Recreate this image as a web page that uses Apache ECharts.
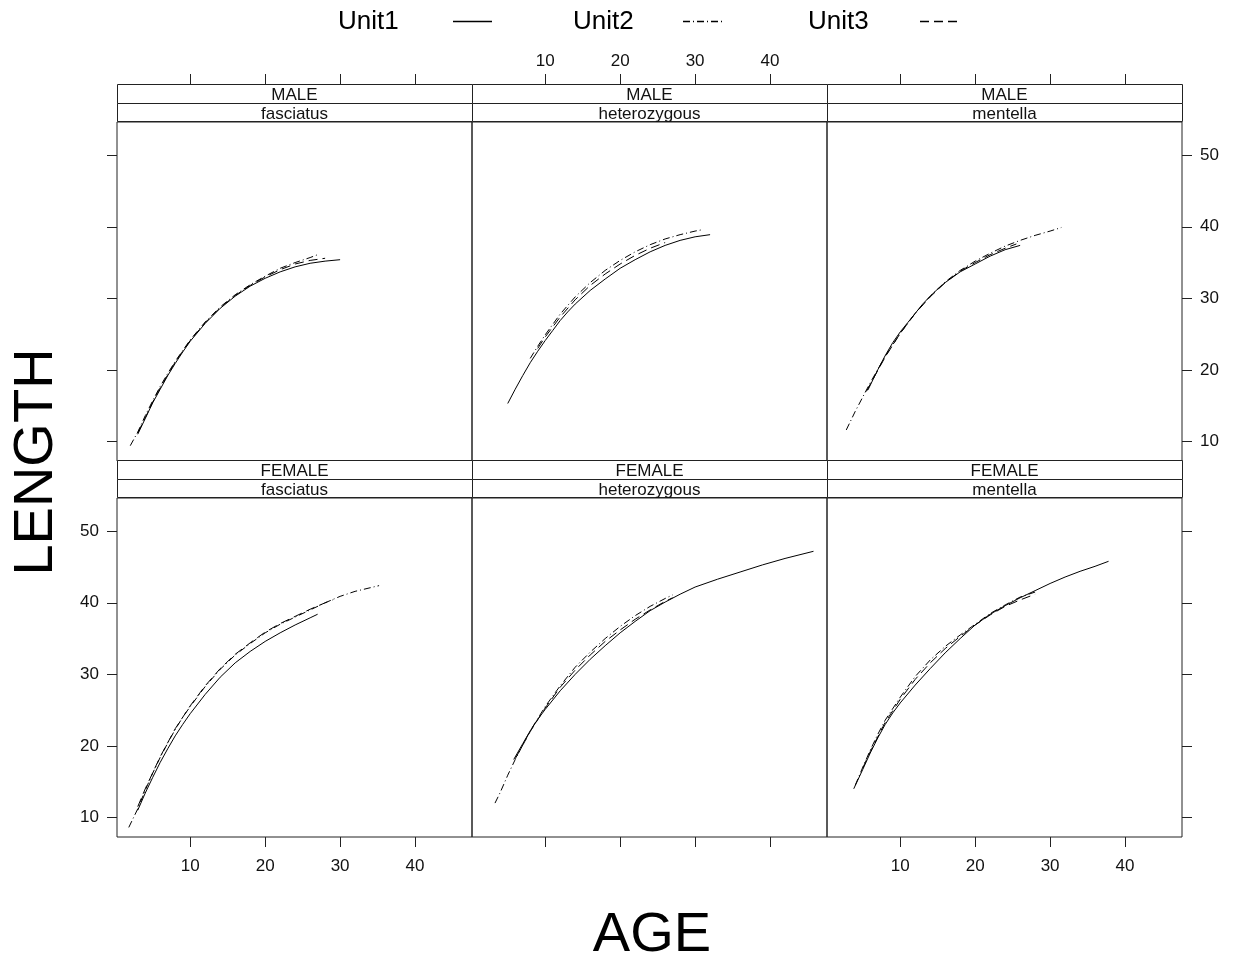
<!DOCTYPE html>
<html>
<head>
<meta charset="utf-8">
<script src="https://cdn.jsdelivr.net/npm/echarts@6/dist/echarts.min.js"></script>
<style>
html,body{margin:0;padding:0;background:#fff;}
#chart{width:1235px;height:960px;}
</style>
</head>
<body>
<div id="chart"></div>
<script>
// ---------- data (age, length) ----------
const sexLabels = ['MALE', 'FEMALE'];
const speciesLabels = ['fasciatus', 'heterozygous', 'mentella'];
const unitNames = ['Unit1', 'Unit2', 'Unit3'];
const xTickValues = [10, 20, 30, 40];
const yTickValues = [10, 20, 30, 40, 50];
const xRange = [0.23, 47.6];
const yRange = [7.26, 54.65];

// MALE fasciatus
const maleFasciatusUnit1 = [[3,11.0],[4,13.2],[5,15.4],[6,17.3],[7,19.2],[8,20.9],[9,22.5],[10,24.0],[12,26.5],[14,28.6],[16,30.3],[18,31.7],[20,32.8],[22,33.7],[24,34.4],[26,34.9],[28,35.2],[30,35.4]];
const maleFasciatusUnit2 = [[2,9.4],[3,11.3],[4,13.6],[5,15.7],[6,17.7],[7,19.5],[8,21.2],[10,24.2],[12,26.7],[14,28.8],[16,30.5],[18,31.9],[20,33.1],[22,34.2],[24,35.0],[26,35.7],[27,36.1]];
const maleFasciatusUnit3 = [[3,11.2],[4,13.3],[5,15.5],[6,17.5],[8,21.1],[10,24.1],[12,26.6],[14,28.7],[16,30.4],[18,31.8],[20,33.0],[22,34.0],[24,34.8],[26,35.3],[28,35.6]];
// MALE heterozygous
const maleHeteroUnit1 = [[5,15.3],[6,17.3],[7,19.2],[8,21.0],[9,22.6],[10,24.1],[11,25.5],[12,26.9],[13,28.1],[14,29.2],[16,31.1],[18,32.7],[20,34.2],[22,35.4],[24,36.5],[26,37.4],[28,38.1],[30,38.6],[32,38.9]];
const maleHeteroUnit2 = [[8,21.6],[9,23.3],[10,24.9],[12,27.8],[14,30.2],[16,32.2],[18,33.9],[20,35.3],[22,36.5],[24,37.5],[26,38.3],[28,38.9],[30,39.4],[31,39.6]];
const maleHeteroUnit3 = [[9,23.0],[10,24.6],[12,27.4],[14,29.8],[16,31.8],[18,33.4],[20,34.8],[22,36.0],[24,37.0],[26,37.8]];
// MALE mentella
const maleMentellaUnit1 = [[5.7,17.2],[7,20.0],[8,22.0],[9,23.8],[10,25.3],[11,26.6],[12,27.9],[13,29.2],[14,30.3],[15,31.3],[16,32.2],[18,33.7],[20,34.8],[22,35.9],[24,36.8],[26,37.4]];
const maleMentellaUnit2 = [[2.8,11.6],[4,14.2],[5,16.2],[6,18.2],[8,21.9],[10,25.1],[12,27.9],[14,30.3],[16,32.3],[18,33.9],[20,35.2],[22,36.3],[24,37.3],[26,38.1],[28,38.8],[30,39.4],[31.5,39.9]];
const maleMentellaUnit3 = [[5.5,17.0],[6,18.0],[8,21.8],[10,25.1],[12,27.9],[14,30.2],[16,32.2],[18,33.8],[20,35.0],[22,36.1],[24,37.0],[25.5,37.6]];
// FEMALE fasciatus
const femaleFasciatusUnit1 = [[3,11.0],[4,13.4],[5,15.6],[6,17.7],[7,19.6],[8,21.4],[9,23.0],[10,24.5],[12,27.2],[14,29.6],[16,31.6],[18,33.2],[20,34.6],[22,35.8],[24,36.9],[26,37.9],[27,38.4]];
const femaleFasciatusUnit2 = [[1.8,8.6],[3,11.2],[4,13.8],[5,16.2],[6,18.4],[7,20.4],[8,22.3],[9,24.0],[10,25.5],[12,28.3],[14,30.7],[16,32.7],[18,34.3],[20,35.8],[22,37.0],[24,38.0],[26,39.0],[28,40.0],[30,40.9],[32,41.6],[34,42.1],[35.2,42.4]];
const femaleFasciatusUnit3 = [[3,11.5],[4,14.0],[6,18.5],[8,22.4],[10,25.6],[12,28.4],[14,30.8],[16,32.8],[18,34.4],[20,35.9],[22,37.1],[24,38.1],[26,39.1],[28,40.0],[29,40.4]];
// FEMALE heterozygous
const femaleHeteroUnit1 = [[5.8,18.1],[7,20.3],[8,22.1],[9,23.7],[10,25.1],[12,27.7],[14,30.0],[16,32.1],[18,34.0],[20,35.8],[22,37.4],[24,38.9],[26,40.1],[28,41.2],[30,42.2],[33,43.3],[36,44.3],[39,45.3],[42,46.2],[45.8,47.2]];
const femaleHeteroUnit2 = [[3.3,12.0],[4,13.5],[5,15.9],[6,18.1],[8,22.1],[10,25.5],[12,28.4],[14,31.0],[16,33.1],[18,35.0],[20,36.7],[22,38.2],[24,39.5],[26,40.6],[27,41.1]];
const femaleHeteroUnit3 = [[6,18.2],[8,22.0],[10,25.3],[12,28.2],[14,30.6],[16,32.7],[18,34.6],[20,36.2],[22,37.7],[24,39.0],[26,40.2],[27,40.7]];
// FEMALE mentella
const femaleMentellaUnit1 = [[3.8,14.0],[5,16.7],[6,19.0],[7,21.1],[8,23.0],[9,24.6],[10,26.0],[12,28.5],[14,30.8],[16,33.0],[18,35.0],[20,36.9],[22,38.4],[24,39.6],[26,40.7],[28,41.7],[30,42.7],[32,43.6],[34,44.4],[36,45.1],[37.8,45.8]];
const femaleMentellaUnit2 = [[4,14.5],[5,17.0],[6,19.4],[7,21.6],[8,23.6],[10,26.8],[12,29.7],[14,32.0],[16,33.9],[18,35.5],[20,37.0],[22,38.5],[24,39.7],[26,40.8],[28,41.5]];
const femaleMentellaUnit3 = [[5,16.9],[6,19.2],[8,23.3],[10,26.5],[12,29.3],[14,31.6],[16,33.6],[18,35.3],[20,36.9],[22,38.3],[24,39.5],[26,40.4],[28,41.2]];

const panelData = [
  [[maleFasciatusUnit1, maleFasciatusUnit2, maleFasciatusUnit3],
   [maleHeteroUnit1, maleHeteroUnit2, maleHeteroUnit3],
   [maleMentellaUnit1, maleMentellaUnit2, maleMentellaUnit3]],
  [[femaleFasciatusUnit1, femaleFasciatusUnit2, femaleFasciatusUnit3],
   [femaleHeteroUnit1, femaleHeteroUnit2, femaleHeteroUnit3],
   [femaleMentellaUnit1, femaleMentellaUnit2, femaleMentellaUnit3]]
];

// ---------- layout ----------
const FONT = '"Liberation Sans", Arial, sans-serif';
const INK = '#222';
const colLeft = [117, 472, 827];
const panelW = 355;
const plotTop = [122, 498];
const plotH = 339;
const lineTypes = ['solid', [7, 3, 1, 3], [9, 5]];

const grids = [], xAxes = [], yAxes = [], series = [], graphics = [];

for (let r = 0; r < 2; r++) {
  for (let c = 0; c < 3; c++) {
    const i = r * 3 + c;
    grids.push({
      left: colLeft[c], top: plotTop[r], width: panelW, height: plotH,
      show: true, borderColor: INK, borderWidth: 1, backgroundColor: 'transparent',
      containLabel: false, outerBoundsMode: 'none'
    });
    const xLabelsShown = (r === 0 && c === 1) || (r === 1 && c !== 1);
    xAxes.push({
      type: 'value', gridIndex: i, min: xRange[0], max: xRange[1],
      position: r === 0 ? 'top' : 'bottom',
      offset: r === 0 ? 38 : 0,
      axisLine: { show: false },
      axisTick: { show: true, inside: false, length: 10, customValues: xTickValues, lineStyle: { color: INK, width: 1 } },
      axisLabel: { show: xLabelsShown, customValues: xTickValues, margin: r === 0 ? 14 : 21, color: '#111', fontSize: 17, fontFamily: FONT },
      splitLine: { show: false }
    });
    const yShow = c !== 1;
    const yLabelsShown = (r === 0 && c === 2) || (r === 1 && c === 0);
    yAxes.push({
      type: 'value', gridIndex: i, min: yRange[0], max: yRange[1],
      position: c === 2 ? 'right' : 'left',
      axisLine: { show: false },
      axisTick: { show: yShow, inside: false, length: 10, customValues: yTickValues, lineStyle: { color: INK, width: 1 } },
      axisLabel: { show: yShow && yLabelsShown, customValues: yTickValues, margin: 18, color: '#111', fontSize: 17, fontFamily: FONT },
      splitLine: { show: false }
    });
    for (let u = 0; u < 3; u++) {
      series.push({
        name: unitNames[u], type: 'line', xAxisIndex: i, yAxisIndex: i,
        data: panelData[r][c][u], showSymbol: false, symbol: 'none',
        smooth: false,
        lineStyle: { color: '#000', width: 1, type: lineTypes[u] },
        silent: true, animation: false
      });
    }
    // strips
    const s1 = plotTop[r] - 37.5;
    graphics.push({
      type: 'rect', shape: { x: colLeft[c] + 0.5, y: s1, width: panelW, height: 19 },
      style: { fill: '#fff', stroke: INK, lineWidth: 1 }, z: 10
    });
    graphics.push({
      type: 'rect', shape: { x: colLeft[c] + 0.5, y: s1 + 19, width: panelW, height: 18 },
      style: { fill: '#fff', stroke: INK, lineWidth: 1 }, z: 10
    });
    graphics.push({
      type: 'text', x: colLeft[c] + panelW / 2, y: s1 + 11,
      style: { text: sexLabels[r], font: '17px ' + FONT, fill: '#111', textAlign: 'center', textVerticalAlign: 'middle' }, z: 11
    });
    graphics.push({
      type: 'text', x: colLeft[c] + panelW / 2, y: s1 + 30,
      style: { text: speciesLabels[c], font: '17px ' + FONT, fill: '#111', textAlign: 'center', textVerticalAlign: 'middle' }, z: 11
    });
  }
}

// legend (key) at top
const keyText = [338, 573, 808];
const keyLine = [[453, 492], [683, 722], [920, 960]];
for (let u = 0; u < 3; u++) {
  graphics.push({
    type: 'text', x: keyText[u], y: 22,
    style: { text: unitNames[u], font: '26px ' + FONT, fill: '#000', textAlign: 'left', textVerticalAlign: 'middle' }
  });
  graphics.push({
    type: 'line', shape: { x1: keyLine[u][0], y1: 21.5, x2: keyLine[u][1], y2: 21.5 },
    style: { stroke: '#000', lineWidth: 1.5, lineDash: u === 0 ? null : lineTypes[u] }
  });
}
// axis titles
graphics.push({
  type: 'text', x: 652, y: 936,
  style: { text: 'AGE', font: '56px ' + FONT, fill: '#000', textAlign: 'center', textVerticalAlign: 'middle' }
});
graphics.push({
  type: 'text', x: 37, y: 462, rotation: Math.PI / 2,
  style: { text: 'LENGTH', font: '56px ' + FONT, fill: '#000', textAlign: 'center', textVerticalAlign: 'middle' }
});

const chart = echarts.init(document.getElementById('chart'), null, { renderer: 'canvas' });
chart.setOption({
  animation: false,
  backgroundColor: '#fff',
  grid: grids, xAxis: xAxes, yAxis: yAxes, series: series,
  graphic: graphics
});
</script>
</body>
</html>
